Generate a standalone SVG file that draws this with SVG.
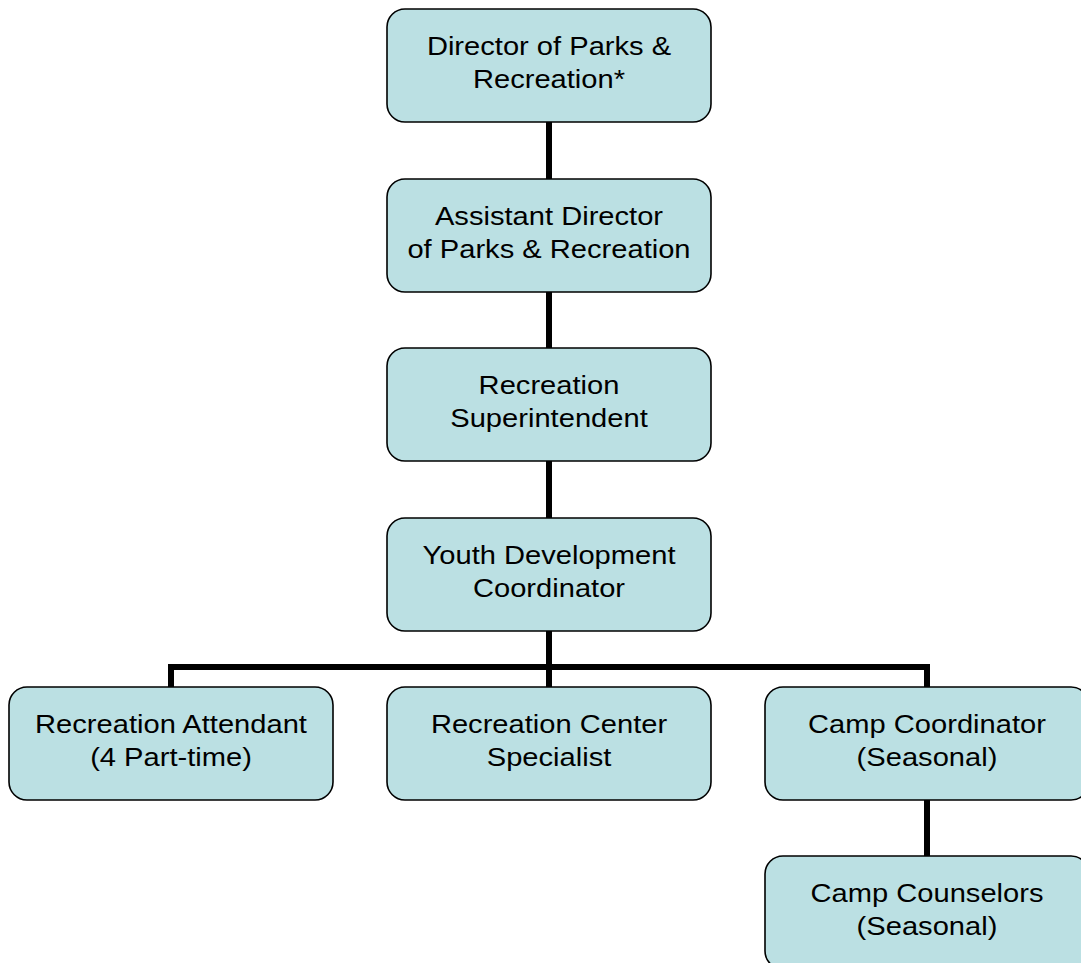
<svg xmlns="http://www.w3.org/2000/svg" width="1081" height="963" viewBox="0 0 1081 963">
  <style>
    .box { fill: #bbe0e3; stroke: #000; stroke-width: 1.6; }
    .label { font-family: "Liberation Sans", Arial, sans-serif; font-size: 26px; fill: #000; text-anchor: middle; }
    .link { fill: none; stroke: #000; stroke-width: 6; stroke-linecap: butt; stroke-linejoin: miter; }
  </style>
  <rect width="1081" height="963" fill="#fff"/>

  <g id="connectors">
    <line class="link" x1="549" y1="122" x2="549" y2="179"/>
    <line class="link" x1="549" y1="292" x2="549" y2="348"/>
    <line class="link" x1="549" y1="461" x2="549" y2="518"/>
    <line class="link" x1="549" y1="631" x2="549" y2="687"/>
    <polyline class="link" points="171,687 171,667 927,667 927,687"/>
    <line class="link" x1="927" y1="800" x2="927" y2="856"/>
  </g>

  <!-- labels are drawn slightly widened: each label group is centred on its box -->
  <g id="director">
    <rect class="box" x="387" y="9" width="324" height="113" rx="18"/>
    <g transform="translate(549 0) scale(1.12 1)">
      <text class="label" x="0" y="55">Director of Parks &amp;</text>
      <text class="label" x="0" y="88">Recreation*</text>
    </g>
  </g>
  <g id="assistant-director">
    <rect class="box" x="387" y="179" width="324" height="113" rx="18"/>
    <g transform="translate(549 0) scale(1.12 1)">
      <text class="label" x="0" y="225">Assistant Director</text>
      <text class="label" x="0" y="258">of Parks &amp; Recreation</text>
    </g>
  </g>
  <g id="superintendent">
    <rect class="box" x="387" y="348" width="324" height="113" rx="18"/>
    <g transform="translate(549 0) scale(1.12 1)">
      <text class="label" x="0" y="394">Recreation</text>
      <text class="label" x="0" y="427">Superintendent</text>
    </g>
  </g>
  <g id="youth-coordinator">
    <rect class="box" x="387" y="518" width="324" height="113" rx="18"/>
    <g transform="translate(549 0) scale(1.12 1)">
      <text class="label" x="0" y="564">Youth Development</text>
      <text class="label" x="0" y="597">Coordinator</text>
    </g>
  </g>
  <g id="attendant">
    <rect class="box" x="9" y="687" width="324" height="113" rx="18"/>
    <g transform="translate(171 0) scale(1.12 1)">
      <text class="label" x="0" y="733">Recreation Attendant</text>
      <text class="label" x="0" y="766">(4 Part-time)</text>
    </g>
  </g>
  <g id="center-specialist">
    <rect class="box" x="387" y="687" width="324" height="113" rx="18"/>
    <g transform="translate(549 0) scale(1.12 1)">
      <text class="label" x="0" y="733">Recreation Center</text>
      <text class="label" x="0" y="766">Specialist</text>
    </g>
  </g>
  <g id="camp-coordinator">
    <rect class="box" x="765" y="687" width="324" height="113" rx="18"/>
    <g transform="translate(927 0) scale(1.12 1)">
      <text class="label" x="0" y="733">Camp Coordinator</text>
      <text class="label" x="0" y="766">(Seasonal)</text>
    </g>
  </g>
  <g id="camp-counselors">
    <rect class="box" x="765" y="856" width="324" height="113" rx="18"/>
    <g transform="translate(927 0) scale(1.12 1)">
      <text class="label" x="0" y="902">Camp Counselors</text>
      <text class="label" x="0" y="935">(Seasonal)</text>
    </g>
  </g>
</svg>
